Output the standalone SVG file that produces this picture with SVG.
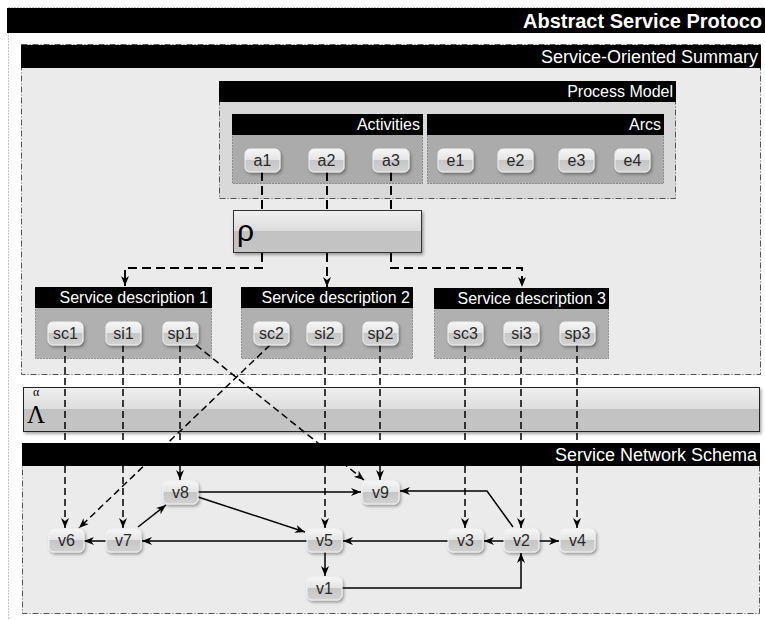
<svg xmlns="http://www.w3.org/2000/svg" width="765" height="620" viewBox="0 0 765 620">
  <defs>
    <linearGradient id="gloss" x1="0" y1="0" x2="0" y2="1">
      <stop offset="0" stop-color="#f6f6f6"/>
      <stop offset="0.5" stop-color="#e3e3e3"/>
      <stop offset="0.5" stop-color="#c6c6c6"/>
      <stop offset="1" stop-color="#d2d2d2"/>
    </linearGradient>
    <linearGradient id="bar" x1="0" y1="0" x2="0" y2="1">
      <stop offset="0" stop-color="#f0f0f0"/>
      <stop offset="0.5" stop-color="#dcdcdc"/>
      <stop offset="0.5" stop-color="#c2c2c2"/>
      <stop offset="1" stop-color="#c4c4c4"/>
    </linearGradient>
    <filter id="shadow" x="-20%" y="-30%" width="150%" height="170%">
      <feDropShadow dx="1.5" dy="2" stdDeviation="1.5" flood-color="#000" flood-opacity="0.35"/>
    </filter>
    <marker id="arr" viewBox="0 0 10 8" refX="10" refY="4" markerWidth="10" markerHeight="8" markerUnits="userSpaceOnUse" orient="auto">
      <path d="M0,0 L10,4 L0,8 L3,4 z" fill="#000"/>
    </marker>
    <style>
      .lbl { font-family: "Liberation Sans", Arial, sans-serif; font-size: 16px; fill: #fff; text-anchor: end; }
      .big { font-size: 18px; }
      .title { font-family: "Liberation Sans", Arial, sans-serif; font-size: 20px; font-weight: bold; fill: #fff; text-anchor: end; }
      .hdr { fill: #000; }
      .frame { stroke: #555; stroke-width: 1; stroke-dasharray: 6 2 1 2; }
      .inner { stroke: #555; stroke-width: 1; stroke-dasharray: 1 2; }
      .node rect { fill: url(#gloss); stroke: #f2f2f2; stroke-width: 1; filter: url(#shadow); }
      .node text { font-family: "Liberation Sans", Arial, sans-serif; font-size: 16px; fill: #2a2a2a; text-anchor: middle; }
      .dtop { fill: none; stroke: #000; stroke-width: 2; stroke-dasharray: 9 5; }
      .dlow { fill: none; stroke: #000; stroke-width: 1.5; stroke-dasharray: 7 4; }
      .solid { fill: none; stroke: #000; stroke-width: 1.5; }
    </style>
  </defs>

  <rect width="765" height="620" fill="#fff"/>

  <!-- outer protocol frame -->
  <g id="protocol">
    <rect x="8.5" y="7.5" width="800" height="650" fill="none" stroke="#888" stroke-width="1" stroke-dasharray="1 2"/>
    <rect class="hdr" x="7" y="8" width="760" height="25"/>
    <text class="title" x="762" y="28">Abstract Service Protoco</text>
  </g>

  <!-- service-oriented summary -->
  <g id="summary">
    <rect class="frame" x="21.5" y="44.5" width="739" height="330" fill="#ebebeb"/>
    <rect class="hdr" x="21" y="45" width="740" height="23"/>
    <text class="lbl big" x="758" y="63">Service-Oriented Summary</text>
  </g>

  <!-- process model -->
  <g id="process-model">
    <rect class="frame" x="219.5" y="81.5" width="456" height="117" fill="#d9d9d9"/>
    <rect class="hdr" x="219" y="81" width="457" height="21"/>
    <text class="lbl" x="673" y="97">Process Model</text>
  </g>
  <g id="activities">
    <rect class="inner" x="232.5" y="114.5" width="190" height="69" fill="#ababab"/>
    <rect class="hdr" x="232" y="114" width="191" height="21"/>
    <text class="lbl" x="420" y="130">Activities</text>
  </g>
  <g id="arcs">
    <rect class="inner" x="427.5" y="114.5" width="236" height="69" fill="#ababab"/>
    <rect class="hdr" x="427" y="114" width="237" height="21"/>
    <text class="lbl" x="661" y="130">Arcs</text>
  </g>

  <!-- service descriptions -->
  <g id="sd1">
    <rect class="inner" x="35.5" y="287.5" width="176" height="71" fill="#b0b0b0"/>
    <rect class="hdr" x="35" y="287" width="177" height="21"/>
    <text class="lbl" x="208" y="303">Service description 1</text>
  </g>
  <g id="sd2">
    <rect class="inner" x="241.5" y="287.5" width="171" height="71" fill="#b0b0b0"/>
    <rect class="hdr" x="241" y="287" width="172" height="21"/>
    <text class="lbl" x="410" y="303">Service description 2</text>
  </g>
  <g id="sd3">
    <rect class="inner" x="434.5" y="288.5" width="174" height="70" fill="#b0b0b0"/>
    <rect class="hdr" x="434" y="288" width="175" height="21"/>
    <text class="lbl" x="606" y="304">Service description 3</text>
  </g>

  <!-- service network schema -->
  <g id="network">
    <rect class="frame" x="22.5" y="443.5" width="737" height="170" fill="#ebebeb"/>
    <rect class="hdr" x="22" y="443" width="738" height="23"/>
    <text class="lbl big" x="757" y="461">Service Network Schema</text>
  </g>

  <!-- mapping bars -->
  <g id="rho">
    <rect x="233.5" y="210.5" width="188" height="42" fill="url(#bar)" stroke="#333" stroke-width="1" filter="url(#shadow)"/>
    <text x="237" y="241" font-family="'Liberation Sans', Arial, sans-serif" font-size="30" fill="#000">ρ</text>
  </g>
  <g id="lambda">
    <rect x="23.5" y="387.5" width="736" height="44" fill="url(#bar)" stroke="#222" stroke-width="1" filter="url(#shadow)"/>
    <text x="27" y="423" font-family="'Liberation Serif', 'Times New Roman', serif" font-size="25" fill="#000">Λ</text>
    <text x="33" y="396" font-family="'Liberation Serif', 'Times New Roman', serif" font-size="12" fill="#000">α</text>
  </g>

  <!-- connectors -->
  <g id="connectors">
    <path class="dtop" d="M262,172 V210"/>
    <path class="dtop" d="M327,172 V210"/>
    <path class="dtop" d="M391,172 V210"/>
    <path class="dtop" d="M262,253 V268 H125 V286" marker-end="url(#arr)"/>
    <path class="dtop" d="M327,253 V287" marker-end="url(#arr)"/>
    <path class="dtop" d="M391,253 V268 H522 V287" marker-end="url(#arr)"/>

    <path class="dlow" d="M65,345 V528" marker-end="url(#arr)"/>
    <path class="dlow" d="M123,345 V528" marker-end="url(#arr)"/>
    <path class="dlow" d="M180,345 V480" marker-end="url(#arr)"/>
    <path class="dlow" d="M196,345 L364,480" marker-end="url(#arr)"/>
    <path class="dlow" d="M270,345 L79,528" marker-end="url(#arr)"/>
    <path class="dlow" d="M325,345 V528" marker-end="url(#arr)"/>
    <path class="dlow" d="M380,345 V480" marker-end="url(#arr)"/>
    <path class="dlow" d="M465,345 V528" marker-end="url(#arr)"/>
    <path class="dlow" d="M521,345 V528" marker-end="url(#arr)"/>
    <path class="dlow" d="M577,345 V528" marker-end="url(#arr)"/>

    <path class="solid" d="M198,492 H361" marker-end="url(#arr)"/>
    <path class="solid" d="M198,497 L305,532" marker-end="url(#arr)"/>
    <path class="solid" d="M138,527 L166,505" marker-end="url(#arr)"/>
    <path class="solid" d="M307,541 H142" marker-end="url(#arr)"/>
    <path class="solid" d="M106,541 H84" marker-end="url(#arr)"/>
    <path class="solid" d="M448,541 H343" marker-end="url(#arr)"/>
    <path class="solid" d="M504,541 H484" marker-end="url(#arr)"/>
    <path class="solid" d="M538,541 H559" marker-end="url(#arr)"/>
    <path class="solid" d="M325,552 V576" marker-end="url(#arr)"/>
    <path class="solid" d="M342,588 H521 V553" marker-end="url(#arr)"/>
    <path class="solid" d="M513,527 L487,491 H400" marker-end="url(#arr)"/>
  </g>

  <!-- activity and arc nodes -->
  <g id="a1" class="node"><rect x="245" y="149" width="35" height="23" rx="5"/><text x="262.5" y="166">a1</text></g>
  <g id="a2" class="node"><rect x="309" y="149" width="35" height="23" rx="5"/><text x="326.5" y="166">a2</text></g>
  <g id="a3" class="node"><rect x="373" y="149" width="36" height="23" rx="5"/><text x="391" y="166">a3</text></g>
  <g id="e1" class="node"><rect x="438" y="149" width="35" height="23" rx="5"/><text x="455.5" y="166">e1</text></g>
  <g id="e2" class="node"><rect x="498" y="149" width="35" height="23" rx="5"/><text x="515.5" y="166">e2</text></g>
  <g id="e3" class="node"><rect x="559" y="149" width="35" height="23" rx="5"/><text x="576.5" y="166">e3</text></g>
  <g id="e4" class="node"><rect x="615" y="149" width="35" height="23" rx="5"/><text x="632.5" y="166">e4</text></g>

  <!-- service description nodes -->
  <g id="sc1" class="node"><rect x="48" y="322" width="35" height="23" rx="5"/><text x="65.5" y="339">sc1</text></g>
  <g id="si1" class="node"><rect x="106" y="322" width="35" height="23" rx="5"/><text x="123.5" y="339">si1</text></g>
  <g id="sp1" class="node"><rect x="163" y="322" width="35" height="23" rx="5"/><text x="180.5" y="339">sp1</text></g>
  <g id="sc2" class="node"><rect x="254" y="322" width="35" height="23" rx="5"/><text x="271.5" y="339">sc2</text></g>
  <g id="si2" class="node"><rect x="307" y="322" width="35" height="23" rx="5"/><text x="324.5" y="339">si2</text></g>
  <g id="sp2" class="node"><rect x="363" y="322" width="35" height="23" rx="5"/><text x="380.5" y="339">sp2</text></g>
  <g id="sc3" class="node"><rect x="448" y="322" width="35" height="23" rx="5"/><text x="465.5" y="339">sc3</text></g>
  <g id="si3" class="node"><rect x="504" y="322" width="35" height="23" rx="5"/><text x="521.5" y="339">si3</text></g>
  <g id="sp3" class="node"><rect x="560" y="322" width="35" height="23" rx="5"/><text x="577.5" y="339">sp3</text></g>

  <!-- network nodes -->
  <g id="v8" class="node"><rect x="163" y="481" width="35" height="23" rx="5"/><text x="180.5" y="498">v8</text></g>
  <g id="v9" class="node"><rect x="362" y="481" width="37" height="23" rx="5"/><text x="380.5" y="498">v9</text></g>
  <g id="v6" class="node"><rect x="49" y="529" width="35" height="23" rx="5"/><text x="66.5" y="546">v6</text></g>
  <g id="v7" class="node"><rect x="106" y="529" width="35" height="23" rx="5"/><text x="123.5" y="546">v7</text></g>
  <g id="v5" class="node"><rect x="307" y="529" width="35" height="23" rx="5"/><text x="324.5" y="546">v5</text></g>
  <g id="v3" class="node"><rect x="448" y="529" width="35" height="23" rx="5"/><text x="465.5" y="546">v3</text></g>
  <g id="v2" class="node"><rect x="504" y="529" width="35" height="23" rx="5"/><text x="521.5" y="546">v2</text></g>
  <g id="v4" class="node"><rect x="560" y="529" width="35" height="23" rx="5"/><text x="577.5" y="546">v4</text></g>
  <g id="v1" class="node"><rect x="307" y="577" width="35" height="23" rx="5"/><text x="324.5" y="594">v1</text></g>
</svg>
